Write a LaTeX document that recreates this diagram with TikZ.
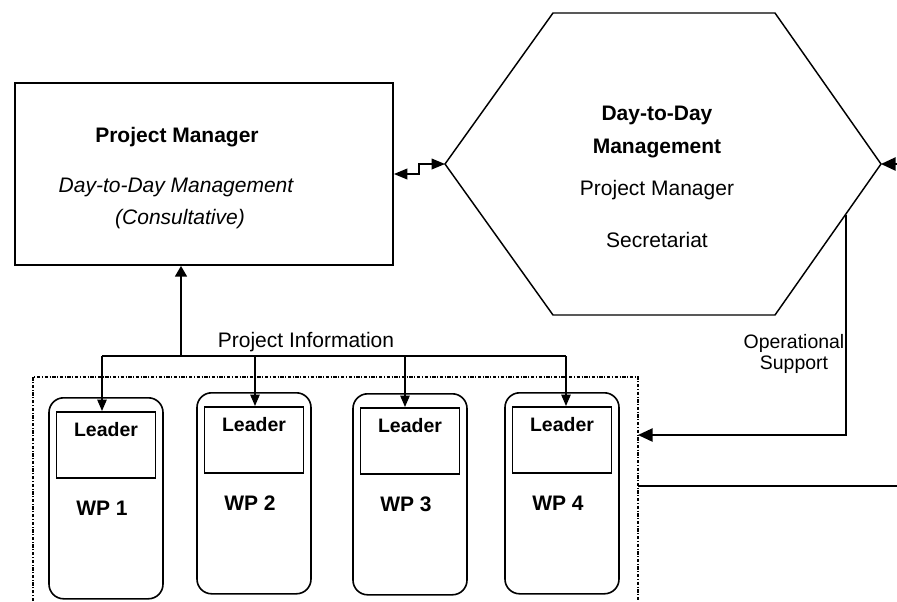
\documentclass[tikz,border=0pt]{standalone}
\usepackage{fontspec}
\setmainfont{Liberation Sans}
\usetikzlibrary{arrows.meta,positioning}

\tikzset{
  bigtxt/.style={font=\fontsize{15.75}{19}\selectfont},
  smalltxt/.style={font=\fontsize{14.6}{17}\selectfont},
  pmbox/.style={draw,line width=1.4pt,minimum width=283.5pt,minimum height=136.5pt,inner sep=0pt},
  wpbox/.style={draw,line width=1.2pt,rounded corners=11pt,minimum width=85.5pt,minimum height=150.75pt,inner sep=0pt},
  leaderbox/.style={draw,line width=1.2pt,minimum width=74.25pt,minimum height=49.5pt,inner sep=0pt},
  link/.style={line width=1.1pt},
  bigtip/.style={-{Triangle[length=11pt,width=10pt]}},
  uptip/.style={-{Triangle[length=8pt,width=9pt]}},
  droptip/.style={-{Triangle[length=8.5pt,width=7pt]}},
  frame/.style={line width=0.9pt,dash pattern=on 2.5pt off 1.2pt on 0.8pt off 1.2pt}
}

\begin{document}
\begin{tikzpicture}[x=0.75pt,y=-0.75pt]
\useasboundingbox (0,0) rectangle (897,601);

% project manager box
\node[pmbox] (pm) at (204,174) {};
\node[bigtxt,font=\fontsize{15.75}{19}\selectfont\bfseries] (pmtitle) at (177,137) {Project Manager};
\node[bigtxt,font=\fontsize{15.75}{19}\selectfont\itshape] (pmsub) at (176,187) {Day-to-Day Management};
\node[bigtxt,font=\fontsize{15.75}{19}\selectfont\itshape] (pmcons) at (180,219) {(Consultative)};

% day-to-day management hexagon
\coordinate (hw) at (445,164);
\coordinate (hnw) at (553,13);
\coordinate (hne) at (775,13);
\coordinate (he) at (881,164);
\coordinate (hse) at (775,315);
\coordinate (hsw) at (553,315);
\draw[line width=1.1pt] (hw)--(hnw)--(hne)--(he)--(hse)--(hsw)--cycle;
\node[bigtxt,font=\fontsize{15.75}{19}\selectfont\bfseries] (dd1) at (657,115) {Day-to-Day};
\node[bigtxt,font=\fontsize{15.75}{19}\selectfont\bfseries] (dd2) at (657,148) {Management};
\node[bigtxt] (ddpm) at (657,190) {Project Manager};
\node[bigtxt] (ddsec) at (657,240) {Secretariat};

% link between the two
\draw[link,{Triangle[length=10pt,width=8pt]}-{Triangle[length=10pt,width=8pt]}] (pm.east) -- ++(25,0) |- (hw);
\coordinate (rin) at (897,164);
\draw[link,bigtip] (rin) -- (he);

% work package frame
\draw[frame] (33,601) -- (33,377) -- (638,377) -- (638,601);
\coordinate (frE) at (638,435);
\coordinate (frL) at (638,486);
\draw[link] (frL) -- (897,486);

% operational support
\coordinate (os) at (846,215);
\draw[link,bigtip] (os) |- (frE);
\node[smalltxt,align=center] (oslbl) at (794,354) {Operational\\[-1pt]Support};
\draw[link] (os) -- (846,435);

% work packages
\foreach \i/\cx/\ty/\dx in {1/106/397/102,2/254/392/255,3/410/393/405,4/562/392/566}{
  \node[wpbox,anchor=north] (wp\i) at (\cx,\ty) {};
  \node[leaderbox,below=10.5pt of wp\i.north] (ld\i) {};
  \node[smalltxt,font=\fontsize{14.6}{17}\selectfont\bfseries,below=5pt of ld\i.north] (ldt\i) {Leader};
  \node[bigtxt,font=\fontsize{15.75}{19}\selectfont\bfseries] (wpt\i) at (\cx-4,\ty+111) {WP \i};
  \coordinate (bus\i) at (\dx,356);
  \draw[link,droptip] (bus\i) -- (bus\i |- ld\i.north);
}

% project information bus
\draw[link] (bus1) -- (bus4);
\coordinate (busup) at (181,356);
\draw[link,uptip] (busup) -- (busup |- pm.south);
\node[bigtxt] (pinfo) at (306,342) {Project Information};

\end{tikzpicture}
\end{document}
